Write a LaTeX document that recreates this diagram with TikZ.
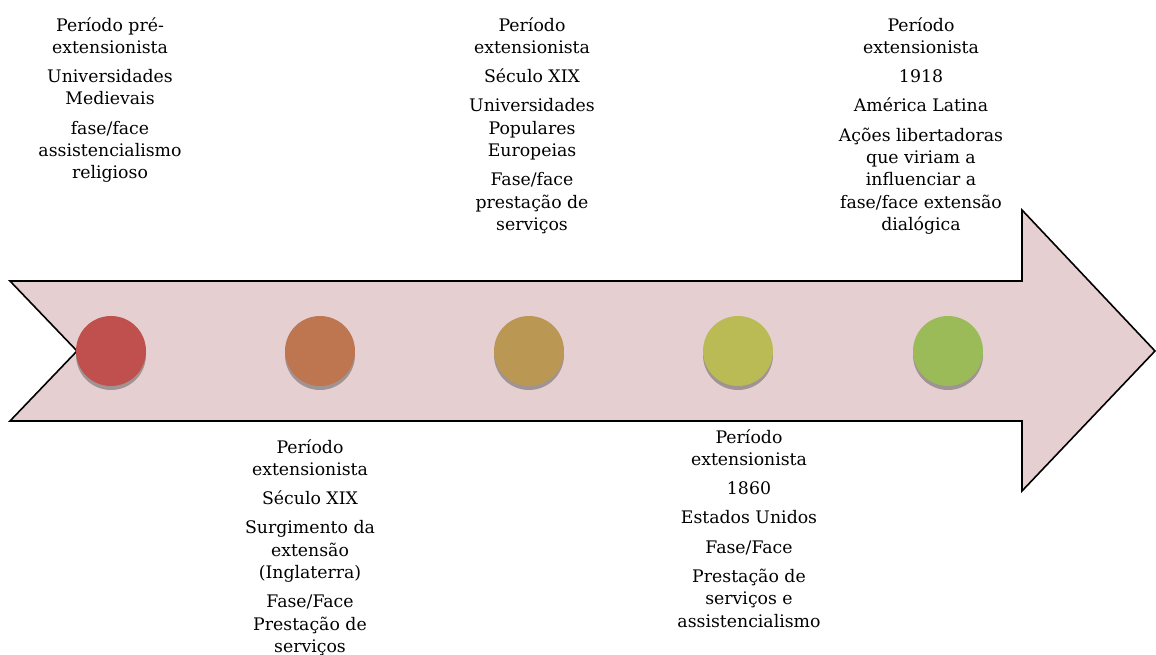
\documentclass[tikz,border=0pt]{standalone}
\usepackage{fontspec}
\setmainfont{DejaVu Serif}
\usepackage{tikz}
\usetikzlibrary{shadows}

\definecolor{fita}{HTML}{E6CFD0}
\definecolor{marcoA}{HTML}{C0504D}
\definecolor{marcoB}{HTML}{BE7650}
\definecolor{marcoC}{HTML}{BA9752}
\definecolor{marcoD}{HTML}{BBBB56}
\definecolor{marcoE}{HTML}{9BBB59}

\begin{document}
\begin{tikzpicture}[x=1pt,y=-1pt,
            marco/.style={circle,minimum size=70pt,inner sep=0pt,
              drop shadow={shadow xshift=0pt,shadow yshift=-4pt,fill=black!70,opacity=0.45}},
            texto/.style={align=center,anchor=north,inner sep=0pt,
              font=\fontsize{17.3}{22.3}\selectfont}]
        \useasboundingbox (0,0) rectangle (1156,655);

        % seta
        \draw[fill=fita,line width=1.6pt,line join=miter]
            (10,281) -- (1022,281) -- (1022,210) -- (1155,351)
            -- (1022,491) -- (1022,421) -- (10,421) -- (77,351) -- cycle;

        % marcos
        \node[marco,fill=marcoA] (M1) at (111,351) {};
        \node[marco,fill=marcoB] (M2) at (320,351) {};
        \node[marco,fill=marcoC] (M3) at (529,351) {};
        \node[marco,fill=marcoD] (M4) at (738,351) {};
        \node[marco,fill=marcoE] (M5) at (948,351) {};

        % textos
        \node[texto] (T1) at (110,17) {Período pré-\\extensionista\\[7pt]
            Universidades\\Medievais\\[7pt]
            fase/face\\assistencialismo\\religioso};
        \node[texto] (T2) at (310,439) {Período\\extensionista\\[7pt]
            Século XIX\\[7pt]
            Surgimento da\\extensão\\(Inglaterra)\\[7pt]
            Fase/Face\\Prestação de\\serviços};
        \node[texto] (T3) at (532,17) {Período\\extensionista\\[7pt]
            Século XIX\\[7pt]
            Universidades\\Populares\\Europeias\\[7pt]
            Fase/face\\prestação de\\serviços};
        \node[texto] (T4) at (749,429) {Período\\extensionista\\[7pt]
            1860\\[7pt]
            Estados Unidos\\[7pt]
            Fase/Face\\[7pt]
            Prestação de\\serviços e\\assistencialismo};
        \node[texto] (T5) at (921,17) {Período\\extensionista\\[7pt]
            1918\\[7pt]
            América Latina\\[7pt]
            Ações libertadoras\\que viriam a\\influenciar a\\fase/face extensão\\dialógica};
    \end{tikzpicture}
\end{document}
